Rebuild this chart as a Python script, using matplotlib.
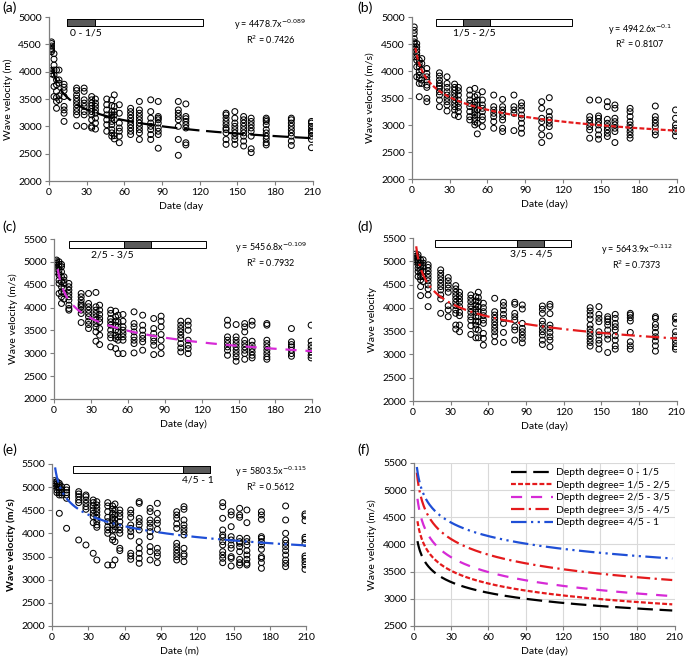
import numpy as np
import matplotlib.pyplot as plt

plt.rcParams['font.family'] = ['Lato', 'DejaVu Sans']
plt.rcParams['font.size'] = 7

# measurement days (shared by all depth ranges)
days = [2, 4, 6, 8, 12, 22, 28, 34, 37, 46, 50, 52, 56, 65, 72, 81, 87,
        103, 109, 141, 148, 155, 161, 173, 193, 209]

# wave velocity readings, one list per measurement day
vel_a = [[4545, 4515, 4470, 4425, 4395, 4365, 4020, 3960],
         [4330, 4230, 4120, 4030, 3940, 3730, 3545],
         [4030, 3850, 3760, 3640, 3530, 3455, 3330],
         [4030, 3850, 3790, 3560, 3485],
         [3770, 3715, 3655, 3545, 3365, 3300, 3240, 3090],
         [3700, 3655, 3575, 3515, 3455, 3395, 3330, 3270, 3210, 3010],
         [3700, 3640, 3485, 3425, 3365, 3270, 3210, 3000],
         [3545, 3485, 3425, 3380, 3330, 3270, 3210, 3120, 3000, 2970],
         [3500, 3425, 3365, 3300, 3240, 3150, 3060, 2950],
         [3500, 3395, 3300, 3210, 3120, 3030, 2910],
         [3485, 3380, 3270, 3210, 3150, 3090, 3030, 2940, 2880, 2820],
         [3575, 3365, 3270, 3210, 3120, 2830, 2770],
         [3395, 3240, 3060, 2970, 2910, 2820, 2700],
         [3330, 3270, 3210, 3150, 3090, 3030, 2970, 2910, 2850],
         [3455, 3300, 3240, 3180, 3120, 3060, 3000, 2940, 2880, 2760],
         [3485, 3270, 3150, 3060, 3000, 2940, 2850, 2760],
         [3455, 3180, 3150, 3120, 3060, 2970, 2910, 2850, 2600],
         [3455, 3300, 3240, 3180, 3120, 3000, 2760, 2470],
         [3410, 3180, 3140, 3090, 3030, 2970, 2700, 2660],
         [3240, 3210, 3150, 3090, 3030, 2970, 2940, 2880, 2760, 2670],
         [3270, 3150, 3060, 3000, 2940, 2880, 2820, 2760, 2670],
         [3180, 3120, 3060, 3000, 2940, 2880, 2820, 2730, 2640],
         [3150, 3090, 3030, 2970, 2910, 2820, 2590, 2520],
         [3150, 3120, 3090, 3030, 2940, 2880, 2820, 2770, 2700, 2660],
         [3150, 3120, 3060, 3000, 2940, 2880, 2820, 2730, 2650],
         [3090, 3060, 3000, 2940, 2910, 2880, 2820, 2760, 2610]]

vel_b = [[4816, 4754, 4693, 4600, 4539, 4508, 4447, 4262],
         [4508, 4447, 4385, 4324, 4262, 4201, 4078, 3893],
         [4201, 4139, 4078, 3986, 3924, 3863, 3770, 3524],
         [4231, 4139, 4016, 3832, 3770],
         [4047, 3955, 3893, 3832, 3740, 3697, 3494, 3432],
         [3967, 3906, 3832, 3770, 3721, 3678, 3617, 3555, 3463, 3340],
         [3893, 3770, 3697, 3617, 3555, 3494, 3432, 3371, 3260],
         [3758, 3697, 3647, 3586, 3524, 3463, 3401, 3340, 3279, 3186],
         [3697, 3635, 3555, 3463, 3401, 3328, 3248, 3156],
         [3647, 3555, 3463, 3401, 3340, 3248, 3156, 3094],
         [3678, 3524, 3432, 3371, 3309, 3248, 3186, 3125, 3063, 3002],
         [3555, 3463, 3371, 3279, 3186, 3033, 2836],
         [3617, 3463, 3371, 3309, 3248, 3156, 3094, 2971],
         [3555, 3340, 3279, 3217, 3156, 3063, 2940],
         [3475, 3340, 3279, 3217, 3156, 3094, 2940, 2879],
         [3555, 3340, 3279, 3217, 2897],
         [3414, 3352, 3279, 3186, 3125, 3033, 2940, 2848],
         [3432, 3309, 3125, 3063, 2940, 2817, 2676],
         [3506, 3248, 3156, 3094, 3033, 2971, 2799],
         [3463, 3156, 3094, 3033, 2971, 2910, 2756],
         [3463, 3168, 3125, 3063, 3002, 2910, 2817, 2738],
         [3432, 3340, 3106, 3033, 2971, 2910, 2848, 2787],
         [3371, 3309, 3125, 3063, 3002, 2940, 2879, 2676],
         [3309, 3248, 3156, 3063, 3002, 2940, 2879, 2817, 2756],
         [3352, 3156, 3094, 3033, 2971, 2879, 2817],
         [3279, 3125, 3002, 2940, 2879, 2799]]

vel_c = [[5040, 5003, 4967, 4930, 4857, 4784],
         [5003, 4945, 4894, 4820, 4747, 4711, 4601, 4528, 4309],
         [4945, 4894, 4784, 4674, 4565, 4455, 4345, 4236, 4090],
         [4674, 4601, 4528, 4419, 4309, 4185],
         [4528, 4455, 4382, 4309, 4236, 4163, 4053, 3980, 3944],
         [4309, 4236, 4163, 4090, 4053, 4017, 3944, 3871, 3673],
         [4309, 4090, 4017, 3944, 3871, 3797, 3702, 3629, 3542],
         [4331, 4017, 3944, 3871, 3797, 3724, 3651, 3578, 3469, 3264],
         [4053, 3944, 3849, 3761, 3688, 3542, 3396, 3191],
         [3944, 3871, 3761, 3688, 3615, 3505, 3410, 3337, 3140],
         [3922, 3797, 3702, 3615, 3505, 3396, 3323, 3103],
         [3834, 3688, 3578, 3469, 3359, 3286, 2994],
         [3849, 3702, 3578, 3505, 3432, 3359, 3286, 2994],
         [3907, 3651, 3578, 3469, 3359, 3286, 3213, 3008],
         [3834, 3615, 3505, 3396, 3323, 3250, 3067],
         [3761, 3542, 3432, 3337, 3264, 3176, 2972],
         [3812, 3702, 3578, 3410, 3286, 3140, 2994],
         [3702, 3615, 3542, 3469, 3396, 3323, 3213, 3118, 3030],
         [3702, 3615, 3505, 3286, 3176, 3103, 2994],
         [3724, 3615, 3359, 3286, 3213, 3140, 3067, 2957],
         [3629, 3359, 3286, 3213, 3140, 3067, 2994, 2921, 2826],
         [3651, 3578, 3469, 3286, 3213, 3140, 3067, 2994, 2869],
         [3702, 3615, 3264, 3176, 3103, 3030, 2957, 2899],
         [3651, 3615, 3286, 3213, 3140, 3067, 2994, 2921, 2869],
         [3542, 3250, 3191, 3140, 3067, 2994, 2935],
         [3615, 3264, 3176, 3103, 3030, 2957, 2899]]

vel_d = [[5155, 5105, 5069, 5033, 4997],
         [5141, 5083, 5033, 4997, 4925, 4853, 4781, 4674],
         [5033, 4961, 4889, 4817, 4745, 4674, 4602, 4458, 4264],
         [5033, 4961, 4889, 4781, 4674, 4566],
         [4925, 4868, 4796, 4724, 4652, 4580, 4494, 4408, 4278, 4027],
         [4817, 4745, 4674, 4602, 4530, 4458, 4386, 4278, 4192, 3883],
         [4652, 4580, 4494, 4422, 4336, 4048, 3955, 3811],
         [4479, 4408, 4336, 4264, 4192, 4120, 4048, 3955, 3883, 3631, 3545],
         [4336, 4264, 4192, 4120, 4027, 3904, 3833, 3631, 3488],
         [4278, 4206, 4134, 4048, 3976, 3904, 3811, 3739, 3617, 3430],
         [4242, 4149, 4063, 3976, 3904, 3811, 3718, 3631, 3545, 3358],
         [4336, 4221, 4134, 4027, 3919, 3811, 3703, 3524, 3358],
         [4099, 4005, 3919, 3833, 3739, 3667, 3452, 3344, 3200],
         [4206, 3919, 3847, 3775, 3703, 3631, 3560, 3488, 3401, 3272],
         [4120, 4048, 3955, 3861, 3775, 3667, 3473, 3258],
         [4120, 4077, 3883, 3811, 3739, 3595, 3524, 3308],
         [4063, 3976, 3667, 3560, 3488, 3416, 3344, 3250],
         [4041, 3969, 3883, 3718, 3646, 3560, 3488, 3416, 3308, 3214],
         [4077, 4027, 3876, 3631, 3560, 3473, 3380, 3308, 3164],
         [4005, 3933, 3847, 3761, 3631, 3545, 3473, 3401, 3329, 3258, 3179],
         [4027, 3861, 3775, 3703, 3488, 3416, 3308, 3236, 3114],
         [3811, 3761, 3703, 3631, 3524, 3416, 3329, 3042],
         [3861, 3775, 3667, 3595, 3524, 3401, 3308, 3186, 3114],
         [3883, 3847, 3789, 3718, 3473, 3272, 3186, 3114],
         [3811, 3775, 3646, 3574, 3473, 3380, 3286, 3186, 3071],
         [3811, 3761, 3667, 3488, 3401, 3308, 3236, 3164, 3114]]

vel_e = [[5140, 5097, 5068, 5025],
         [5118, 5068, 5010, 4938, 4881],
         [5082, 5046, 4996, 4938, 4881, 4830, 4434],
         [5010, 4938, 4881, 4830],
         [4996, 4938, 4881, 4830, 4758, 4110],
         [4902, 4852, 4794, 4722, 4665, 3858],
         [4830, 4794, 4722, 4650, 4578, 4521, 3750],
         [4722, 4665, 4593, 4506, 4434, 4362, 4232, 3570],
         [4686, 4614, 4542, 4470, 4398, 4326, 4254, 4182, 4132, 3426],
         [4665, 4593, 4470, 4348, 4254, 4146, 4074, 4002, 3318],
         [4593, 4521, 4434, 4348, 4276, 4182, 4074, 3930, 3858, 3318],
         [4636, 4506, 4398, 4304, 4218, 4146, 4074, 3822, 3426],
         [4506, 4434, 4362, 4254, 4146, 4074, 4002, 3678, 3628],
         [4506, 4434, 4348, 4182, 4110, 4038, 3944, 3570, 3512, 3440],
         [4686, 4650, 4326, 4254, 4182, 4074, 3822, 3678, 3570, 3462, 3354],
         [4542, 4470, 4290, 4218, 4132, 4038, 3930, 3714, 3606, 3426],
         [4650, 4434, 4290, 4218, 4088, 3678, 3584, 3512, 3368],
         [4470, 4398, 4326, 4204, 4110, 3786, 3714, 3642, 3570, 3498, 3426],
         [4578, 4521, 4290, 4182, 4110, 4038, 3966, 3678, 3556, 3512, 3390],
         [4665, 4578, 4326, 4074, 3966, 3916, 3822, 3750, 3606, 3534, 3462, 3368],
         [4470, 4398, 4146, 3930, 3858, 3750, 3678, 3498, 3462, 3296],
         [4542, 4398, 4348, 3894, 3822, 3786, 3714, 3606, 3440, 3368, 3318],
         [4506, 4232, 3894, 3822, 3750, 3628, 3534, 3440, 3354, 3318],
         [4470, 4398, 4304, 3930, 3894, 3822, 3750, 3656, 3498, 3462, 3368, 3246],
         [4593, 4290, 4002, 3858, 3786, 3714, 3628, 3534, 3426, 3354, 3282],
         [4420, 4376, 4276, 3916, 3872, 3786, 3512, 3462, 3390, 3318, 3224]]

# power-law fit labels y = a * x^b and R^2, as printed on the panels
eq_a = ['4478.7', '4942.6', '5456.8', '5643.9', '5803.5']
eq_b = ['-0.089', '-0.1', '-0.109', '-0.112', '-0.115']
eq_r2 = ['0.7426', '0.8107', '0.7932', '0.7373', '0.5612']
# trend curves as they are drawn (d and e)
curve_a = [4478.7, 4942.6, 5456.8, 5860.0, 5860.0]
curve_b = [-0.089, -0.1, -0.109, -0.105, -0.084]
depth_labels = ['0 - 1/5', '1/5 - 2/5', '2/5 - 3/5', '3/5 - 4/5', '4/5 - 1']

colors = ['black', '#e41a1c', '#d62ad6', '#e41a1c', '#1f4fd6']
styles = [(0, (7, 3)), (0, (2.2, 1)), (0, (5, 4)), (0, (6, 2, 1, 2)), (0, (7, 2, 1, 2, 1, 2))]

fig = plt.figure(figsize=(6.85, 6.57), dpi=100)
rects = [[0.0715, 0.7245, 0.385, 0.2496], [0.601, 0.7275, 0.387, 0.2466],
         [0.079, 0.3927, 0.377, 0.2435], [0.603, 0.3896, 0.385, 0.2481],
         [0.076, 0.0472, 0.371, 0.2466], [0.604, 0.0472, 0.381, 0.2481]]
axes = [fig.add_axes(r) for r in rects]

ylabels = ['Wave velocity (m)', 'Wave velocity (m/s)', 'Wave velocity (m/s)',
           'Wave velocity', 'Wave velocity (m/s)', 'Wave velocity (m/s)']
xlabels = ['Date (day', 'Date (day)', 'Date (day)', 'Date (day)', 'Date (m)', 'Date (day)']
ytops = [5000, 5000, 5500, 5500, 5500, 5500]
ybots = [2000, 2000, 2000, 2000, 2000, 2500]

box_left = [0.07, 0.09, 0.057, 0.083, 0.083]
box_w = [0.515, 0.515, 0.533, 0.517, 0.54]
lab_x = [0.08, 0.235, 0.225, 0.45, 0.575]
lab_ha = ['left', 'center', 'center', 'center', 'center']
eq_pos = [(0.84, 0.955, 0.86), (0.86, 0.92, 0.835), (0.84, 0.945, 0.85),
          (0.85, 0.925, 0.835), (0.86, 0.95, 0.86)]
start_day = [3, 3, 3, 2.5, 2.5]

for i, ax in enumerate(axes):
    for s in ['top', 'right']:
        ax.spines[s].set_visible(False)
    for s in ['left', 'bottom']:
        ax.spines[s].set_color('#7f7f7f')
        ax.spines[s].set_linewidth(0.9)
    ax.set_xlim(0, 210)
    ax.set_xticks(np.arange(0, 211, 30))
    ax.set_ylim(ybots[i], ytops[i])
    ax.set_yticks(np.arange(ybots[i], ytops[i] + 1, 500))
    ax.tick_params(length=3, width=0.8, color='#7f7f7f', labelsize=7.5, pad=2)
    ax.set_ylabel(ylabels[i], fontsize=7.5, labelpad=4,
                  fontweight='bold' if i == 4 else 'normal')
    ax.set_xlabel(xlabels[i], fontsize=7.5, labelpad=3)

for letter, (x, y) in zip('abcdef', [(0.004, 0.998), (0.521, 0.998), (0.004, 0.665),
                                     (0.521, 0.665), (0.004, 0.325), (0.521, 0.325)]):
    fig.text(x, y, '(' + letter + ')', fontsize=10, ha='left', va='top')

vels = [vel_a, vel_b, vel_c, vel_d, vel_e]
for i in range(5):
    ax = axes[i]
    xs = [d for d, vs in zip(days, vels[i]) for _ in vs]
    ys = [v for vs in vels[i] for v in vs]
    ax.scatter(xs, ys, s=18, facecolors='none', edgecolors='black', linewidths=0.75, zorder=2)
    t = np.linspace(start_day[i], 210, 300)
    ax.plot(t, curve_a[i] * t ** curve_b[i], color=colors[i], linestyle=styles[i], lw=1.6, zorder=3)
    # depth range bar
    ax.add_patch(plt.Rectangle((box_left[i], 0.945), box_w[i], 0.045, transform=ax.transAxes,
                               facecolor='white', edgecolor='black', lw=0.7, clip_on=False))
    ax.add_patch(plt.Rectangle((box_left[i] + box_w[i] * i / 5, 0.945), box_w[i] / 5, 0.045,
                               transform=ax.transAxes, facecolor='#5a5a5a',
                               edgecolor='black', lw=0.7, clip_on=False))
    ax.text(lab_x[i], 0.93, depth_labels[i], transform=ax.transAxes, ha=lab_ha[i],
            va='top', fontsize=7.5)
    ex, ey1, ey2 = eq_pos[i]
    ax.text(ex, ey1, 'y = %sx$^{%s}$' % (eq_a[i], eq_b[i]), transform=ax.transAxes,
            ha='center', va='center', fontsize=6.5)
    ax.text(ex, ey2, 'R$^{2}$ = %s' % eq_r2[i], transform=ax.transAxes,
            ha='center', va='center', fontsize=6.5)

# (f) all trend curves together
ax = axes[5]
ax.grid(True, color='#d9d9d9', lw=0.8)
ax.set_axisbelow(True)
for i in range(5):
    t = np.linspace(start_day[i], 208, 300)
    ax.plot(t, curve_a[i] * t ** curve_b[i], color=colors[i], linestyle=styles[i], lw=1.6,
            label='Depth degree= ' + depth_labels[i])
ax.legend(loc='upper right', frameon=False, fontsize=7.5, handlelength=4.0,
          borderaxespad=0.1, labelspacing=0.3, handletextpad=0.3)

plt.savefig('out.png', dpi=100)
